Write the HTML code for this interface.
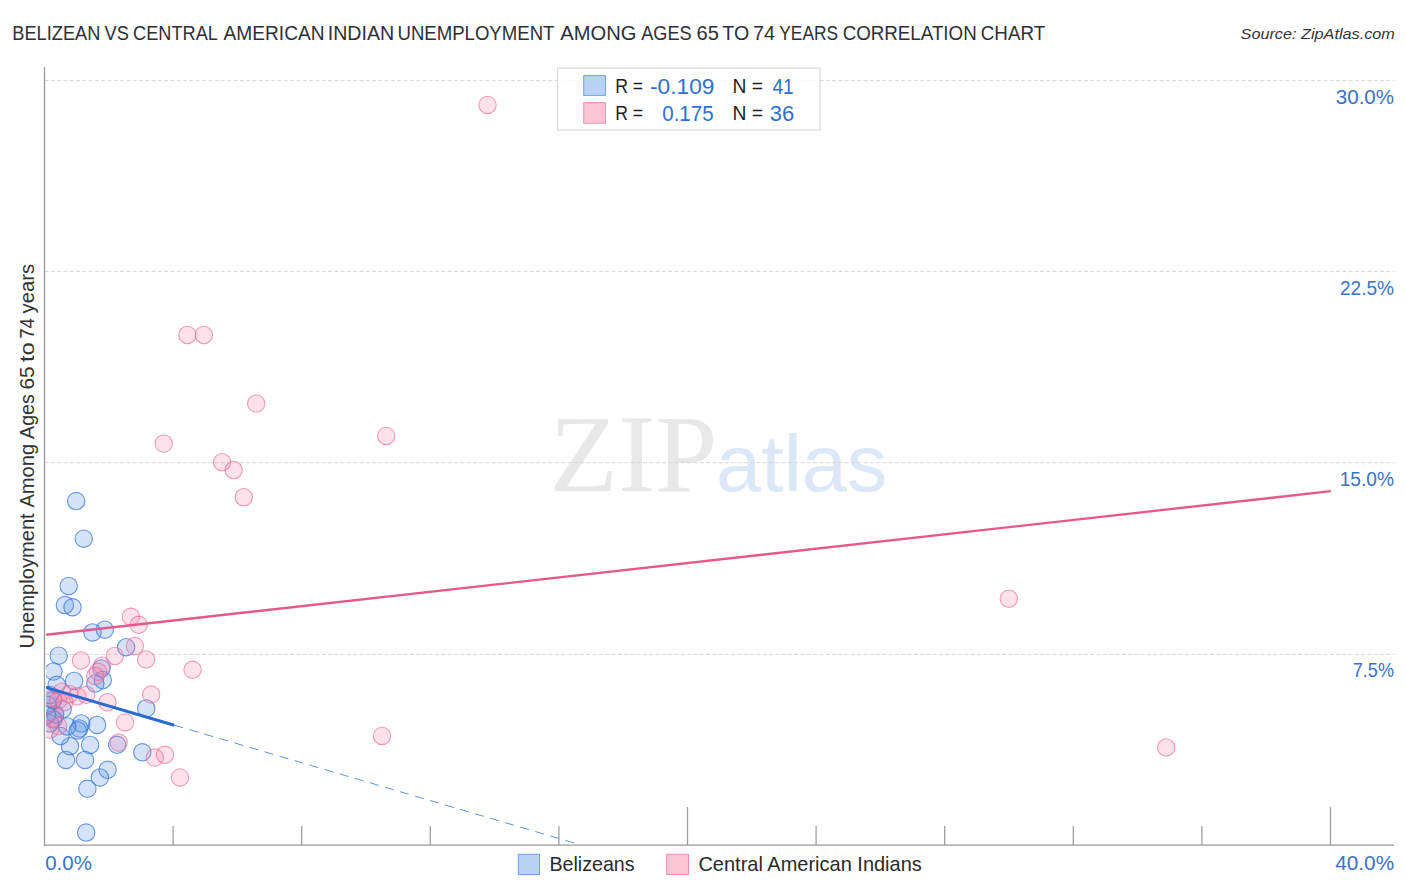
<!DOCTYPE html>
<html lang="en">
<head>
<meta charset="utf-8">
<title>Belizean vs Central American Indian Unemployment Among Ages 65 to 74 years Correlation Chart</title>
<style>
html,body{margin:0;padding:0;background:#fff;}
body{width:1406px;height:892px;position:relative;overflow:hidden;font-family:"Liberation Sans",sans-serif;}
</style>
</head>
<body>
<svg width="1406" height="892" viewBox="0 0 1406 892" style="position:absolute;left:0;top:0">
<defs><clipPath id="plot"><rect x="46.2" y="60" width="1352" height="784.6"/></clipPath><clipPath id="dots"><rect x="46.2" y="60" width="1352" height="784.4"/></clipPath></defs>
<text transform="matrix(1.0163 0 0 1 549.59 490.50)" font-family="'Liberation Serif', serif" font-size="110.08" fill="#e8e8e8">ZIP</text>
<text transform="matrix(1.0193 0 0 1 716.05 490.70)" font-family="'Liberation Sans', sans-serif" font-size="79.59" fill="#dce7f8">atlas</text>
<line x1="44.5" y1="80.45" x2="1394.5" y2="80.45" stroke="#d8d8d8" stroke-width="1" stroke-dasharray="4 2.3"/>
<line x1="44.5" y1="271.45" x2="1394.5" y2="271.45" stroke="#d8d8d8" stroke-width="1" stroke-dasharray="4 2.3"/>
<line x1="44.5" y1="462.7" x2="1394.5" y2="462.7" stroke="#d8d8d8" stroke-width="1" stroke-dasharray="4 2.3"/>
<line x1="44.5" y1="654.35" x2="1394.5" y2="654.35" stroke="#d8d8d8" stroke-width="1" stroke-dasharray="4 2.3"/>
<line x1="173.1" y1="826" x2="173.1" y2="845" stroke="#a0a0a0" stroke-width="1.3"/>
<line x1="301.7" y1="826" x2="301.7" y2="845" stroke="#a0a0a0" stroke-width="1.3"/>
<line x1="430.3" y1="826" x2="430.3" y2="845" stroke="#a0a0a0" stroke-width="1.3"/>
<line x1="558.9" y1="826" x2="558.9" y2="845" stroke="#a0a0a0" stroke-width="1.3"/>
<line x1="687.5" y1="807" x2="687.5" y2="845" stroke="#a0a0a0" stroke-width="1.3"/>
<line x1="816.1" y1="826" x2="816.1" y2="845" stroke="#a0a0a0" stroke-width="1.3"/>
<line x1="944.7" y1="826" x2="944.7" y2="845" stroke="#a0a0a0" stroke-width="1.3"/>
<line x1="1073.3" y1="826" x2="1073.3" y2="845" stroke="#a0a0a0" stroke-width="1.3"/>
<line x1="1201.9" y1="826" x2="1201.9" y2="845" stroke="#a0a0a0" stroke-width="1.3"/>
<line x1="1330.5" y1="807" x2="1330.5" y2="845" stroke="#a0a0a0" stroke-width="1.3"/>
<line x1="44.5" y1="67" x2="44.5" y2="845.9" stroke="#9a9a9a" stroke-width="1.3"/>
<line x1="43.9" y1="845.2" x2="1394" y2="845.2" stroke="#9a9a9a" stroke-width="1.3"/>
<g clip-path="url(#dots)">
<g fill="rgba(88,148,231,0.26)" stroke="rgba(54,116,215,0.74)" stroke-width="1.1">
<circle cx="76.2" cy="501.1" r="8.7"/>
<circle cx="83.7" cy="538.7" r="8.7"/>
<circle cx="68.7" cy="586" r="8.7"/>
<circle cx="64.9" cy="605.1" r="8.7"/>
<circle cx="72.5" cy="607.3" r="8.7"/>
<circle cx="92.5" cy="632.4" r="8.7"/>
<circle cx="104.8" cy="629.7" r="8.7"/>
<circle cx="126.1" cy="647.2" r="8.7"/>
<circle cx="58.7" cy="655.7" r="8.7"/>
<circle cx="53.5" cy="671.5" r="8.7"/>
<circle cx="56.7" cy="684.8" r="8.7"/>
<circle cx="74.1" cy="680.9" r="8.7"/>
<circle cx="101.4" cy="668.5" r="8.7"/>
<circle cx="102.8" cy="680" r="8.7"/>
<circle cx="95.3" cy="683.5" r="8.7"/>
<circle cx="146.2" cy="708.4" r="8.7"/>
<circle cx="97.1" cy="724.9" r="8.7"/>
<circle cx="81.3" cy="723.5" r="8.7"/>
<circle cx="79.3" cy="728.5" r="8.7"/>
<circle cx="77.8" cy="730.5" r="8.7"/>
<circle cx="90.1" cy="744.9" r="8.7"/>
<circle cx="70" cy="746.2" r="8.7"/>
<circle cx="60.5" cy="736" r="8.7"/>
<circle cx="67.2" cy="726.5" r="8.7"/>
<circle cx="66" cy="759.9" r="8.7"/>
<circle cx="85" cy="759.9" r="8.7"/>
<circle cx="87.4" cy="788.8" r="8.7"/>
<circle cx="99.9" cy="777.4" r="8.7"/>
<circle cx="107.6" cy="769.8" r="8.7"/>
<circle cx="117.1" cy="744.8" r="8.7"/>
<circle cx="142.3" cy="752.3" r="8.7"/>
<circle cx="86.2" cy="832.6" r="8.7"/>
<circle cx="53.1" cy="700.3" r="8.7"/>
<circle cx="62.7" cy="709.3" r="8.7"/>
<circle cx="55.1" cy="714.4" r="8.7"/>
<circle cx="53.1" cy="719.4" r="8.7"/>
<circle cx="50" cy="723.5" r="8.7"/>
<circle cx="48" cy="705" r="8.7"/>
<circle cx="47" cy="715" r="8.7"/>
<circle cx="50" cy="695" r="8.7"/>
</g>
<g fill="rgba(245,130,170,0.24)" stroke="rgba(232,96,140,0.62)" stroke-width="1.05">
<circle cx="487.5" cy="104.9" r="8.7"/>
<circle cx="187.4" cy="335" r="8.7"/>
<circle cx="203.9" cy="335" r="8.7"/>
<circle cx="256.2" cy="403.6" r="8.7"/>
<circle cx="163.7" cy="443.6" r="8.7"/>
<circle cx="386.2" cy="435.9" r="8.7"/>
<circle cx="222.1" cy="462.3" r="8.7"/>
<circle cx="233.7" cy="470" r="8.7"/>
<circle cx="243.8" cy="497.3" r="8.7"/>
<circle cx="1008.8" cy="598.7" r="8.7"/>
<circle cx="1166.2" cy="747.5" r="8.7"/>
<circle cx="382" cy="735.9" r="8.7"/>
<circle cx="192.6" cy="669.8" r="8.7"/>
<circle cx="130.9" cy="616.8" r="8.7"/>
<circle cx="138.7" cy="624.8" r="8.7"/>
<circle cx="134.9" cy="646.1" r="8.7"/>
<circle cx="146.1" cy="659.5" r="8.7"/>
<circle cx="114.8" cy="656" r="8.7"/>
<circle cx="81" cy="660.5" r="8.7"/>
<circle cx="102.1" cy="665.7" r="8.7"/>
<circle cx="98" cy="671.8" r="8.7"/>
<circle cx="95.3" cy="676" r="8.7"/>
<circle cx="151.2" cy="694.6" r="8.7"/>
<circle cx="107.5" cy="702.2" r="8.7"/>
<circle cx="125" cy="722.4" r="8.7"/>
<circle cx="118.7" cy="742.6" r="8.7"/>
<circle cx="154.8" cy="757.6" r="8.7"/>
<circle cx="165" cy="754.8" r="8.7"/>
<circle cx="180" cy="777.4" r="8.7"/>
<circle cx="61.7" cy="691.7" r="8.7"/>
<circle cx="69.3" cy="694.2" r="8.7"/>
<circle cx="77.3" cy="696.2" r="8.7"/>
<circle cx="86.2" cy="694.8" r="8.7"/>
<circle cx="53.1" cy="698.2" r="8.7"/>
<circle cx="58.2" cy="700.3" r="8.7"/>
<circle cx="64.2" cy="702.3" r="8.7"/>
<circle cx="54.1" cy="718.4" r="8.7"/>
<circle cx="58.2" cy="726" r="8.7"/>
<circle cx="50" cy="729.5" r="8.7"/>
</g>
</g>
<g clip-path="url(#plot)">
<line x1="174.3" y1="725.2" x2="574" y2="842.9" stroke="#5e92e0" stroke-width="1" stroke-dasharray="9.1 6.58"/>
<line x1="44.5" y1="687.0" x2="174.3" y2="725.2" stroke="#2a6bd0" stroke-width="3"/>
<line x1="44.5" y1="634.9" x2="1330.8" y2="491.2" stroke="#e5588c" stroke-width="2.3"/>
</g>
<text transform="matrix(1.0126 0 0 1 45.19 869.95)" font-family="'Liberation Sans', sans-serif" font-size="20.28" fill="#3b72c9">0.0%</text>
<text transform="matrix(1.0251 0 0 1 1335.23 869.95)" font-family="'Liberation Sans', sans-serif" font-size="20.28" fill="#3b72c9">40.0%</text>
<text transform="matrix(0.8948 0 0 1 1352.80 677.45)" font-family="'Liberation Sans', sans-serif" font-size="20.21" fill="#3b72c9">7.5%</text>
<text transform="matrix(0.9520 0 0 1 1339.66 486.25)" font-family="'Liberation Sans', sans-serif" font-size="20.14" fill="#3b72c9">15.0%</text>
<text transform="matrix(0.9470 0 0 1 1339.95 295.05)" font-family="'Liberation Sans', sans-serif" font-size="20.14" fill="#3b72c9">22.5%</text>
<text transform="matrix(1.0199 0 0 1 1335.83 103.85)" font-family="'Liberation Sans', sans-serif" font-size="20.14" fill="#3b72c9">30.0%</text>
<g transform="translate(34,647) rotate(-90)"><text transform="matrix(0.9952 0 0 1 -1.56 0.00)" font-family="'Liberation Sans', sans-serif" font-size="20.22" fill="#333">Unemployment</text><text transform="matrix(0.9948 0 0 1 139.45 0.00)" font-family="'Liberation Sans', sans-serif" font-size="20.22" fill="#333">Among</text><text transform="matrix(0.9705 0 0 1 208.05 0.00)" font-family="'Liberation Sans', sans-serif" font-size="20.22" fill="#333">Ages</text><text transform="matrix(1.0280 0 0 1 257.56 0.00)" font-family="'Liberation Sans', sans-serif" font-size="20.22" fill="#333">65</text><text transform="matrix(1.1769 0 0 1 284.94 0.00)" font-family="'Liberation Sans', sans-serif" font-size="20.22" fill="#333">to</text><text transform="matrix(0.9245 0 0 1 308.17 0.00)" font-family="'Liberation Sans', sans-serif" font-size="20.22" fill="#333">74</text><text transform="matrix(1.0005 0 0 1 333.55 0.00)" font-family="'Liberation Sans', sans-serif" font-size="20.22" fill="#333">years</text></g>
<rect x="557.5" y="68.1" width="262.6" height="62" fill="#fff" fill-opacity="0.82" stroke="#dadada" stroke-width="1.2"/>
<rect x="583.7" y="75.6" width="21.7" height="19.8" fill="#b9d3f5" stroke="#6ea1e6" stroke-width="1"/>
<rect x="583.7" y="102.6" width="21.7" height="20.6" fill="#fbc5d6" stroke="#f08fae" stroke-width="1"/>
<text transform="matrix(0.8594 0 0 1 615.15 93.00)" font-family="'Liberation Sans', sans-serif" font-size="20.51" fill="#1f1f1f">R =</text>
<text transform="matrix(0.9989 0 0 1 649.98 93.77)" font-family="'Liberation Sans', sans-serif" font-size="22.76" fill="#2f6fd0">-0.109</text>
<text transform="matrix(0.9674 0 0 1 732.51 92.80)" font-family="'Liberation Sans', sans-serif" font-size="19.93" fill="#1f1f1f">N =</text>
<text transform="matrix(0.8379 0 0 1 772.47 93.90)" font-family="'Liberation Sans', sans-serif" font-size="22.84" fill="#2f6fd0">41</text>
<text transform="matrix(0.8717 0 0 1 615.15 120.20)" font-family="'Liberation Sans', sans-serif" font-size="20.22" fill="#1f1f1f">R =</text>
<text transform="matrix(0.8969 0 0 1 662.23 120.97)" font-family="'Liberation Sans', sans-serif" font-size="22.90" fill="#2f6fd0">0.175</text>
<text transform="matrix(0.9745 0 0 1 732.51 119.80)" font-family="'Liberation Sans', sans-serif" font-size="19.78" fill="#1f1f1f">N =</text>
<text transform="matrix(0.9702 0 0 1 769.78 120.77)" font-family="'Liberation Sans', sans-serif" font-size="22.61" fill="#2f6fd0">36</text>
<rect x="518.3" y="854.3" width="21.2" height="20.2" fill="#b9d3f5" stroke="#6ea1e6" stroke-width="1"/>
<rect x="666.7" y="854.3" width="21.8" height="20.2" fill="#fbc5d6" stroke="#f08fae" stroke-width="1"/>
<text transform="matrix(0.9907 0 0 1 549.38 870.80)" font-family="'Liberation Sans', sans-serif" font-size="19.86" fill="#2a2a2a">Belizeans</text>
<text transform="matrix(1.0075 0 0 1 698.40 870.80)" font-family="'Liberation Sans', sans-serif" font-size="19.86" fill="#2a2a2a">Central American Indians</text>
<text transform="matrix(0.9111 0 0 1 12.30 39.75)" font-family="'Liberation Sans', sans-serif" font-size="20.00" fill="#2d2f38">BELIZEAN</text>
<text transform="matrix(0.9144 0 0 1 104.61 39.75)" font-family="'Liberation Sans', sans-serif" font-size="20.00" fill="#2d2f38">VS</text>
<text transform="matrix(0.9084 0 0 1 133.09 39.75)" font-family="'Liberation Sans', sans-serif" font-size="20.00" fill="#2d2f38">CENTRAL</text>
<text transform="matrix(0.9571 0 0 1 223.55 39.75)" font-family="'Liberation Sans', sans-serif" font-size="20.00" fill="#2d2f38">AMERICAN</text>
<text transform="matrix(0.9813 0 0 1 327.68 39.75)" font-family="'Liberation Sans', sans-serif" font-size="20.00" fill="#2d2f38">INDIAN</text>
<text transform="matrix(0.9299 0 0 1 397.46 39.75)" font-family="'Liberation Sans', sans-serif" font-size="20.00" fill="#2d2f38">UNEMPLOYMENT</text>
<text transform="matrix(1.0081 0 0 1 560.35 39.75)" font-family="'Liberation Sans', sans-serif" font-size="20.00" fill="#2d2f38">AMONG</text>
<text transform="matrix(0.9076 0 0 1 641.25 39.75)" font-family="'Liberation Sans', sans-serif" font-size="20.00" fill="#2d2f38">AGES</text>
<text transform="matrix(1.0049 0 0 1 696.60 39.75)" font-family="'Liberation Sans', sans-serif" font-size="20.00" fill="#2d2f38">65</text>
<text transform="matrix(0.9808 0 0 1 722.26 39.75)" font-family="'Liberation Sans', sans-serif" font-size="20.00" fill="#2d2f38">TO</text>
<text transform="matrix(0.9927 0 0 1 753.01 39.75)" font-family="'Liberation Sans', sans-serif" font-size="20.00" fill="#2d2f38">74</text>
<text transform="matrix(0.8668 0 0 1 779.31 39.75)" font-family="'Liberation Sans', sans-serif" font-size="20.00" fill="#2d2f38">YEARS</text>
<text transform="matrix(0.9384 0 0 1 842.66 39.75)" font-family="'Liberation Sans', sans-serif" font-size="20.00" fill="#2d2f38">CORRELATION</text>
<text transform="matrix(0.9396 0 0 1 980.76 39.75)" font-family="'Liberation Sans', sans-serif" font-size="20.00" fill="#2d2f38">CHART</text>
<text transform="matrix(1.0669 0 0 1 1240.55 38.54)" font-family="'Liberation Sans', sans-serif" font-size="15.23" font-style="italic" fill="#33353c">Source: ZipAtlas.com</text>
</svg>
</body>
</html>
